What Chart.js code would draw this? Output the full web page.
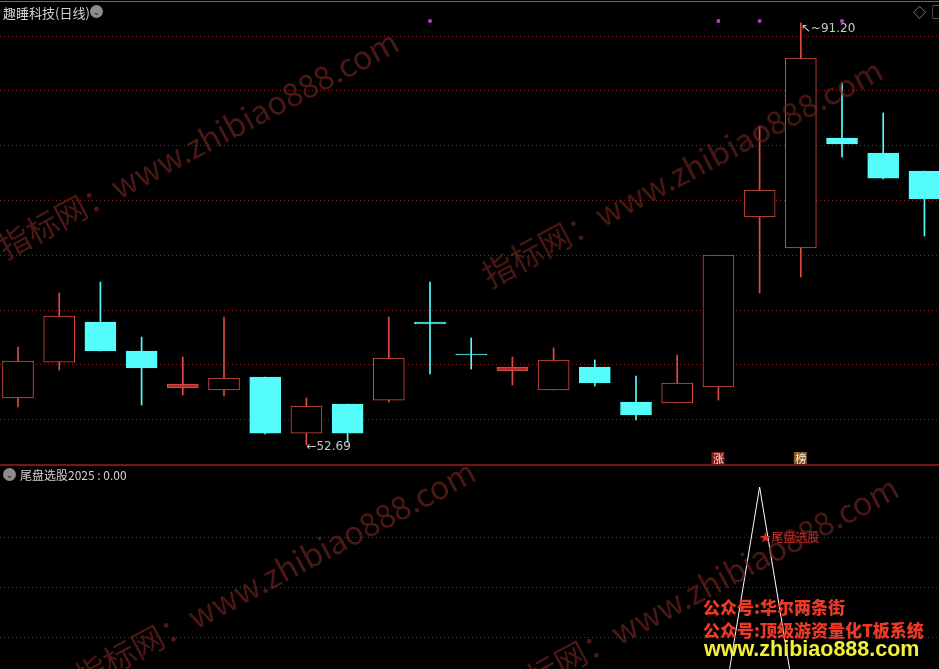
<!DOCTYPE html>
<html>
<head>
<meta charset="utf-8">
<script src="https://cdn.jsdelivr.net/npm/chart.js@4.4.0/dist/chart.umd.min.js"></script>
<style>
html, body { margin: 0; padding: 0; background: #000; width: 939px; height: 669px; overflow: hidden; }
body { position: relative; font-family: "Noto Sans CJK SC", "DejaVu Sans", sans-serif; }
canvas { position: absolute; left: 0; }
#topChart { top: 5px; }
#botChart { top: 467px; }
.txt { position: absolute; white-space: nowrap; }
.icon { position: absolute; width: 13px; height: 13px; border-radius: 50%; background: #8c8c8c; color: #222; font-size: 9px; line-height: 13px; text-align: center; }
.wm { position: absolute; white-space: nowrap; font-size: 32px; color: rgba(112, 36, 28, 0.68); transform-origin: 0 100%; transform: rotate(-28deg); pointer-events: none; }
.promo { position: absolute; white-space: nowrap; font-weight: 900; font-family: "Noto Sans CJK SC", sans-serif; }
</style>
</head>
<body>
<div style="position:absolute;left:0;top:1px;width:939px;height:1px;background:#6a6a6a"></div>
<canvas id="topChart" width="939" height="460"></canvas>
<div style="position:absolute;left:0;top:464px;width:939px;height:2px;background:#7a1414"></div>
<canvas id="botChart" width="939" height="202"></canvas>

<div class="txt" style="left:3px;top:3px;font-size:13px;color:#d2d2d2">趣睡科技(日线)</div>
<div class="icon" style="left:90px;top:5px">&#8964;</div>
<div class="txt" style="left:913px;top:2px;font-size:13px;color:#9a9a9a">◇</div>
<div class="txt" style="left:932px;top:1px;font-size:14px;color:#9a9a9a">▢</div>
<div class="icon" style="left:3px;top:468px">&#8964;</div>
<div class="txt" style="left:20px;top:466px;font-size:12px;color:#d2d2d2">尾盘选股2025 : 0.00</div>

<div class="wm" style="left:10px;top:222px">指标网：www.zhibiao888.com</div>
<div class="wm" style="left:494px;top:250px">指标网：www.zhibiao888.com</div>
<div class="wm" style="left:87px;top:652px">指标网：www.zhibiao888.com</div>
<div class="wm" style="left:510px;top:668px">指标网：www.zhibiao888.com</div>

<div class="promo" style="left:703px;top:594px;font-size:17px;color:#ec3a26">公众号:华尔两条街</div>
<div class="promo" style="left:703px;top:617px;font-size:17px;color:#ec3a26">公众号:顶级游资量化T板系统</div>
<div class="promo" style="left:704px;top:637px;font-size:21.5px;color:#f2f03a;font-family:'Liberation Sans',sans-serif">www.zhibiao888.com</div>

<script>
// 日线 K 线数据
const openP  = [56.98, 60.26, 63.91, 61.27, 57.89, 57.71, 58.89, 53.78, 56.43, 56.79, 63.91, 60.99, 59.44, 57.71, 59.81, 56.61, 56.52, 57.98, 73.50, 70.67, 80.71, 79.34, 77.69];
const highP  = [61.63, 66.56, 67.56, 62.54, 60.72, 64.37, 58.89, 56.98, 56.43, 64.37, 67.56, 62.45, 60.72, 61.54, 60.45, 58.99, 60.90, 70.02, 81.80, 91.20, 85.72, 82.99, 77.69];
const lowP   = [56.16, 59.53, 61.27, 56.34, 57.25, 57.16, 53.69, 52.69, 52.96, 56.61, 59.17, 59.62, 58.16, 57.71, 58.07, 54.97, 56.52, 56.79, 66.56, 68.02, 78.97, 76.96, 71.76];
const closeP = [60.35, 64.46, 61.27, 59.72, 58.26, 58.80, 53.78, 56.25, 53.78, 60.63, 63.73, 60.90, 59.81, 60.45, 58.35, 55.43, 58.35, 70.02, 75.96, 88.01, 80.16, 77.05, 75.14];

// 顶部紫色信号点
const dotIdx = [10, 17, 18, 20];
const dotLevel = 91.38;

// 涨 / 榜 标记
const badgeIdx = [17, 19];
const badgeText = ['涨', '榜'];

// 副图: 尾盘选股2025
const sigVals = [0, 0, 0, 0, 0, 0, 0, 0, 0, 0, 0, 0, 0, 0, 0, 0, 0, 0, 1, 0, 0, 0, 0];
const sigLabelIdx = 18;
const sigLabelVal = 0.8;
const sigLabel = '尾盘选股';

const priceTicks = [55, 60, 65, 70, 75, 80, 85, 90];
const sigTicks = [0.4, 0.6, 0.8];

const RED = 'rgb(220,76,66)';
const CYAN = 'rgb(84,252,252)';
const GRID = 'rgba(150,34,34,0.95)';

const xMin = -0.437, xMax = 22.354;

const upColor = (i) => closeP[i] >= openP[i];

const wicks = openP.map((o, i) => ({ x: i, y: [lowP[i], highP[i]] }));
const bodies = openP.map((o, i) => ({ x: i, y: [o, closeP[i]] }));

// 最高 / 最低价标注 + 涨榜标记
const topLabels = {
    id: 'topLabels',
    afterDatasetsDraw(chart) {
        const { ctx, scales: { x, y } } = chart;
        const hi = highP.indexOf(Math.max(...highP));
        const lo = lowP.indexOf(Math.min(...lowP));
        ctx.save();
        ctx.font = '12px "DejaVu Sans", sans-serif';
        ctx.fillStyle = '#c8c8c8';
        ctx.textBaseline = 'middle';
        const hx = x.getPixelForValue(hi), hy = y.getPixelForValue(highP[hi]);
        ctx.fillText('↖~' + highP[hi].toFixed(2), hx, hy + 6);
        const lx = x.getPixelForValue(lo), ly = y.getPixelForValue(lowP[lo]);
        ctx.fillText('←' + lowP[lo].toFixed(2), lx, ly + 2);

        ctx.font = '11px "Noto Sans CJK SC", sans-serif';
        ctx.textAlign = 'center';
        badgeIdx.forEach((idx, k) => {
            const bx = x.getPixelForValue(idx);
            ctx.fillStyle = k === 0 ? '#8a1212' : '#8a5a22';
            ctx.fillRect(bx - 7, 447, 13, 13);
            ctx.fillStyle = '#f0e8e0';
            ctx.fillText(badgeText[k], bx, 454);
        });
        ctx.restore();
    }
};

new Chart(document.getElementById('topChart'), {
    type: 'bar',
    data: {
        datasets: [
            {
                label: 'body',
                data: bodies,
                barThickness: 31,
                minBarLength: 1,
                grouped: false,
                borderSkipped: false,
                borderWidth: 1,
                borderColor: openP.map((o, i) => upColor(i) ? RED : CYAN),
                backgroundColor: openP.map((o, i) => upColor(i)
                    ? (Math.abs(closeP[i] - o) < 0.5 ? 'rgba(180,52,46,0.9)' : '#000')
                    : CYAN)
            },
            {
                label: 'wick',
                data: wicks,
                barThickness: 1,
                grouped: false,
                borderSkipped: false,
                borderWidth: 0,
                backgroundColor: openP.map((o, i) => upColor(i) ? RED : CYAN)
            },
            {
                type: 'scatter',
                label: 'dot',
                data: dotIdx.map(i => ({ x: i, y: dotLevel })),
                pointStyle: 'rect',
                pointRadius: 1.8,
                backgroundColor: '#c23ad0',
                borderColor: '#c23ad0'
            }
        ]
    },
    options: {
        responsive: false,
        animation: false,
        layout: { padding: 0, autoPadding: false },
        plugins: { legend: { display: false }, tooltip: { enabled: false } },
        scales: {
            x: { type: 'linear', min: xMin, max: xMax, offset: false, display: false },
            y: {
                min: 50.866, max: 92.843,
                afterBuildTicks: (s) => { s.ticks = priceTicks.map(v => ({ value: v })); },
                ticks: { display: false },
                border: { display: false, dash: [1, 3] },
                grid: { color: GRID, lineWidth: 1, drawTicks: false }
            }
        }
    },
    plugins: [topLabels]
});

const sigLabelPlugin = {
    id: 'sigLabel',
    afterDatasetsDraw(chart) {
        const { ctx, scales: { x, y } } = chart;
        const px = x.getPixelForValue(sigLabelIdx), py = y.getPixelForValue(sigLabelVal);
        ctx.save();
        ctx.fillStyle = '#e02c2c';
        ctx.font = '12px "Noto Sans CJK SC", sans-serif';
        ctx.textBaseline = 'middle';
        ctx.fillText('★' + sigLabel, px, py);
        ctx.restore();
    }
};

new Chart(document.getElementById('botChart'), {
    type: 'line',
    data: {
        datasets: [{
            label: '尾盘选股2025',
            data: sigVals.map((v, i) => ({ x: i, y: v })),
            borderColor: '#ffffff',
            borderWidth: 1,
            pointRadius: 0,
            tension: 0
        }]
    },
    options: {
        responsive: false,
        animation: false,
        layout: { padding: 0, autoPadding: false },
        plugins: { legend: { display: false }, tooltip: { enabled: false } },
        scales: {
            x: { type: 'linear', min: xMin, max: xMax, display: false },
            y: {
                min: 0.272, max: 1.08,
                afterBuildTicks: (s) => { s.ticks = sigTicks.map(v => ({ value: v })); },
                ticks: { display: false },
                border: { display: false, dash: [1, 3] },
                grid: { color: GRID, lineWidth: 1, drawTicks: false }
            }
        }
    },
    plugins: [sigLabelPlugin]
});
</script>
</body>
</html>
